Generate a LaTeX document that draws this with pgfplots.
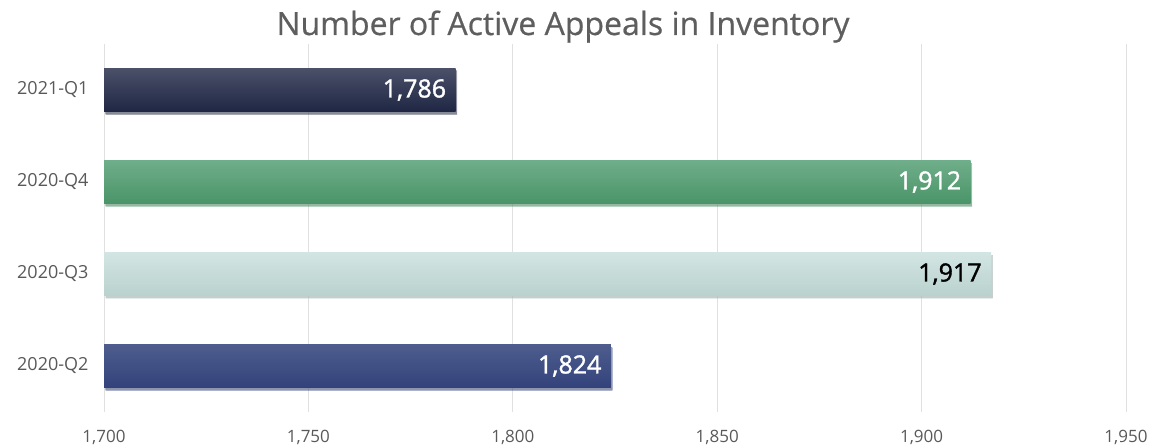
\documentclass[border=0pt]{standalone}
\usepackage{pgfplots}
\pgfplotsset{compat=1.18}
\usepackage{fontspec}
\setmainfont{Open Sans}
\newfontfamily\medfont{Open Sans}[FakeBold=1.5]
\newfontfamily\titlefont{Open Sans}[FakeBold=0.6]
\usetikzlibrary{shadows}
\definecolor{txtgrey}{HTML}{595959}
\definecolor{titlegrey}{HTML}{5E5E5E}
\definecolor{gridgrey}{HTML}{E0E0E0}
\definecolor{navyT}{HTML}{4B5068}
\definecolor{navyB}{HTML}{1F2744}
\definecolor{greenT}{HTML}{6FAE8A}
\definecolor{greenB}{HTML}{4A9468}
\definecolor{lightT}{HTML}{D3E5E2}
\definecolor{lightB}{HTML}{B9D2CE}
\definecolor{blueT}{HTML}{4E5D8E}
\definecolor{blueB}{HTML}{33427A}
\begin{document}
\begin{tikzpicture}
\begin{axis}[
  at={(104pt,33pt)}, anchor=south west,
  scale only axis, width=1022pt, height=368pt,
  xmin=1700, xmax=1950, ymin=-0.5, ymax=3.5,
  xtick={1700,1750,1800,1850,1900,1950},
  ytick={0,1,2,3},
  yticklabels={2020-Q2,2020-Q3,2020-Q4,2021-Q1},
  xmajorgrids, major grid style={gridgrey, line width=0.8pt},
  axis line style={draw=none},
  major tick length=0pt,
  tick label style={font=\fontsize{17}{20}\selectfont, text=txtgrey},
  xticklabel style={anchor=base, yshift=-30pt},
  yticklabel style={xshift=-12pt, font=\fontsize{18}{21}\selectfont},
  /pgf/number format/.cd, 1000 sep={,}, assume math mode=true,
  /pgfplots/.cd,
  xbar, bar width=43pt, bar shift=0pt,
  clip=false,
  title={Number of Active Appeals in Inventory},
  title style={font=\titlefont\fontsize{32}{36}\selectfont, text=titlegrey, at={(0.5,1)}, anchor=base, yshift=3pt, xshift=-52pt},
  nodes near coords,
  nodes near coords align={anchor=east},
  every node near coord/.append style={font=\medfont\fontsize{25}{28}\selectfont, xshift=-6pt, /pgf/number format/assume math mode=true},
]
\addplot[draw=none, top color=blueT, bottom color=blueB, drop shadow={shadow xshift=1.5pt, shadow yshift=-2.5pt, opacity=0.4}, every node near coord/.append style={text=white}] coordinates {(1824,0)};
\addplot[draw=none, top color=lightT, bottom color=lightB, drop shadow={shadow xshift=1.5pt, shadow yshift=-2.5pt, opacity=0.4}, every node near coord/.append style={text=black}] coordinates {(1917,1)};
\addplot[draw=none, top color=greenT, bottom color=greenB, drop shadow={shadow xshift=1.5pt, shadow yshift=-2.5pt, opacity=0.4}, every node near coord/.append style={text=white}] coordinates {(1912,2)};
\addplot[draw=none, top color=navyT, bottom color=navyB, drop shadow={shadow xshift=1.5pt, shadow yshift=-2.5pt, opacity=0.4}, every node near coord/.append style={text=white}] coordinates {(1786,3)};
\end{axis}
\pgfresetboundingbox
\path[use as bounding box] (0,0) rectangle (1156pt,445pt);
\end{tikzpicture}
\end{document}
